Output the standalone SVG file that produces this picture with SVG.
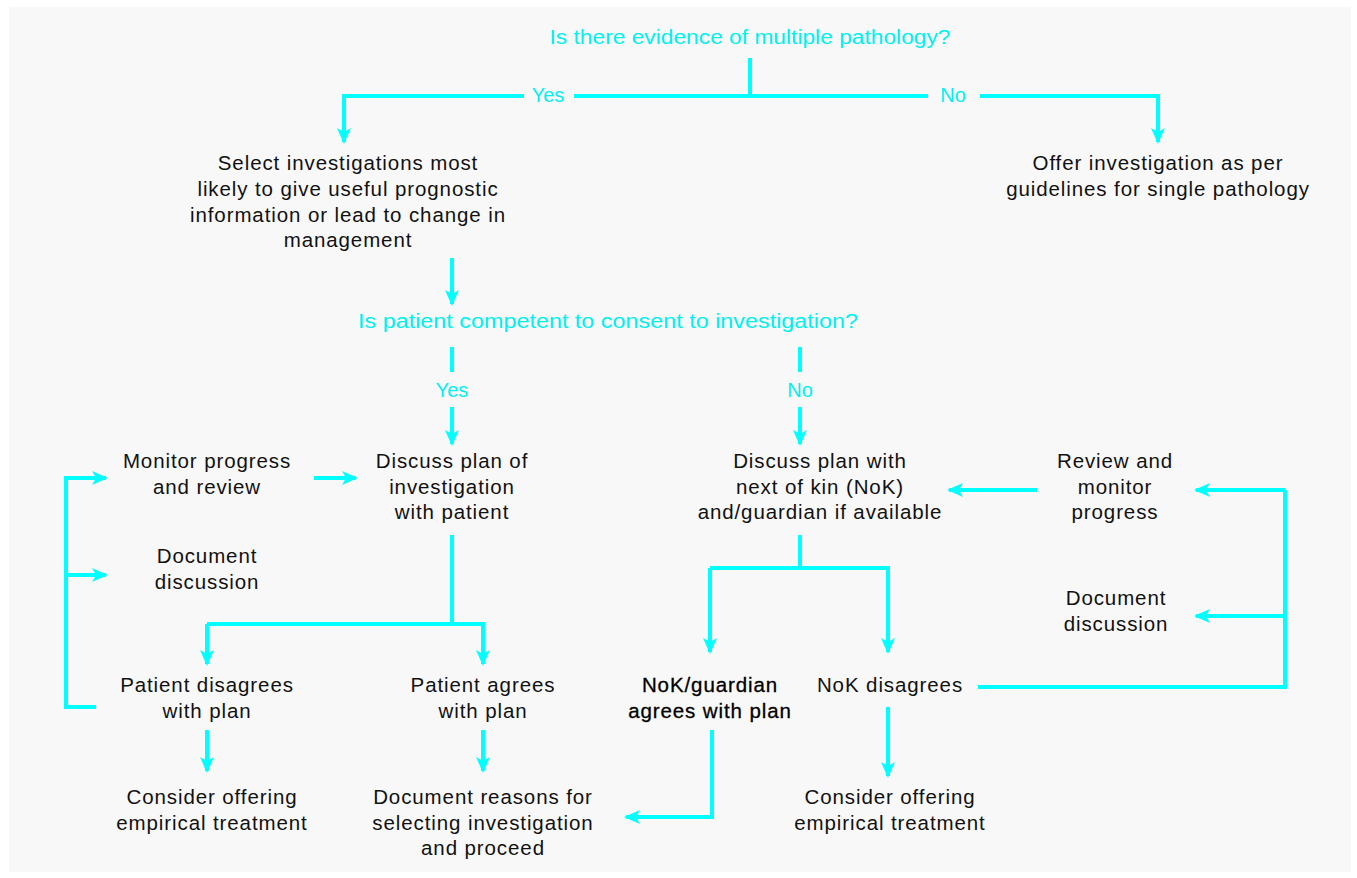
<svg xmlns="http://www.w3.org/2000/svg" width="1357" height="878" viewBox="0 0 1357 878">
<defs>
<marker id="ah" markerUnits="userSpaceOnUse" markerWidth="16" markerHeight="16" viewBox="0 0 16 16" refX="14" refY="8" orient="auto">
<path d="M0,1 L16,8 L0,15 L4,8 Z" fill="#00ffff"/>
</marker>
<style>
.t{font-family:"Liberation Sans",Arial,sans-serif;font-size:20.5px;letter-spacing:0.9px;fill:#111;text-anchor:middle}
.b{fill:#000;stroke:#000;stroke-width:0.3px}
.q{font-family:"Liberation Sans",Arial,sans-serif;font-size:20px;fill:#00f0f0;text-anchor:middle}
.c{fill:none;stroke:#00ffff;stroke-width:4}
.a{fill:none;stroke:#00ffff;stroke-width:4;marker-end:url(#ah)}
</style>
</defs>
<rect x="0" y="0" width="1357" height="878" fill="#ffffff"/>
<rect x="9" y="7" width="1342" height="865" fill="#f8f8f8"/>

<g id="connectors">
<path class="c" d="M750,58 V96"/>
<path class="a" d="M524,96 H344 V142"/>
<path class="c" d="M574,96 H928"/>
<path class="a" d="M980,96 H1158 V142"/>
<path class="a" d="M452,258 V304"/>
<path class="c" d="M452,347 V372"/>
<path class="a" d="M452,407 V444"/>
<path class="c" d="M800,347 V372"/>
<path class="a" d="M800,407 V444"/>
<path class="a" d="M314,478 H356"/>
<path class="a" d="M96,707 H66 V478 H106"/>
<path class="a" d="M66,575 H106"/>
<path class="c" d="M452,535 V624 H207"/>
<path class="a" d="M207,624 V664"/>
<path class="a" d="M452,624 H483 V664"/>
<path class="a" d="M207,730 V771"/>
<path class="a" d="M483,730 V771"/>
<path class="c" d="M800,535 V568 H710"/>
<path class="a" d="M710,568 V652"/>
<path class="a" d="M800,568 H888 V652"/>
<path class="a" d="M888,707 V776"/>
<path class="a" d="M712,730 V817 H626"/>
<path class="c" d="M978,687 H1285 V490"/>
<path class="a" d="M1285,490 H1196"/>
<path class="a" d="M1285,616 H1196"/>
<path class="a" d="M1037,490 H949"/>
</g>

<g id="q1"><text class="q" x="750" y="44" textLength="401" lengthAdjust="spacingAndGlyphs">Is there evidence of multiple pathology?</text></g>
<g id="yes1"><text class="q" x="548" y="102">Yes</text></g>
<g id="no1"><text class="q" x="953" y="102">No</text></g>
<g id="select"><text class="t" x="348" y="170">Select investigations most</text><text class="t" x="348" y="196">likely to give useful prognostic</text><text class="t" x="348" y="222">information or lead to change in</text><text class="t" x="348" y="247">management</text></g>
<g id="offer"><text class="t" x="1158" y="170">Offer investigation as per</text><text class="t" x="1158" y="196">guidelines for single pathology</text></g>
<g id="q2"><text class="q" x="608" y="328" textLength="500" lengthAdjust="spacingAndGlyphs">Is patient competent to consent to investigation?</text></g>
<g id="yes2"><text class="q" x="452" y="397">Yes</text></g>
<g id="no2"><text class="q" x="800" y="397">No</text></g>
<g id="monitor"><text class="t" x="207" y="468">Monitor progress</text><text class="t" x="207" y="494">and review</text></g>
<g id="discuss-patient"><text class="t" x="452" y="468">Discuss plan of</text><text class="t" x="452" y="494">investigation</text><text class="t" x="452" y="519">with patient</text></g>
<g id="doc-left"><text class="t" x="207" y="563">Document</text><text class="t" x="207" y="589">discussion</text></g>
<g id="discuss-nok"><text class="t" x="820" y="468">Discuss plan with</text><text class="t" x="820" y="494">next of kin (NoK)</text><text class="t" x="820" y="519">and/guardian if available</text></g>
<g id="review"><text class="t" x="1115" y="468">Review and</text><text class="t" x="1115" y="494">monitor</text><text class="t" x="1115" y="519">progress</text></g>
<g id="doc-right"><text class="t" x="1116" y="605">Document</text><text class="t" x="1116" y="631">discussion</text></g>
<g id="pt-disagrees"><text class="t" x="207" y="692">Patient disagrees</text><text class="t" x="207" y="718">with plan</text></g>
<g id="pt-agrees"><text class="t" x="483" y="692">Patient agrees</text><text class="t" x="483" y="718">with plan</text></g>
<g id="nok-agrees"><text class="t b" x="710" y="692">NoK/guardian</text><text class="t b" x="710" y="718">agrees with plan</text></g>
<g id="nok-disagrees"><text class="t" x="890" y="692">NoK disagrees</text></g>
<g id="empirical-left"><text class="t" x="212" y="804">Consider offering</text><text class="t" x="212" y="830">empirical treatment</text></g>
<g id="doc-reasons"><text class="t" x="483" y="804">Document reasons for</text><text class="t" x="483" y="830">selecting investigation</text><text class="t" x="483" y="855">and proceed</text></g>
<g id="empirical-right"><text class="t" x="890" y="804">Consider offering</text><text class="t" x="890" y="830">empirical treatment</text></g>
</svg>
